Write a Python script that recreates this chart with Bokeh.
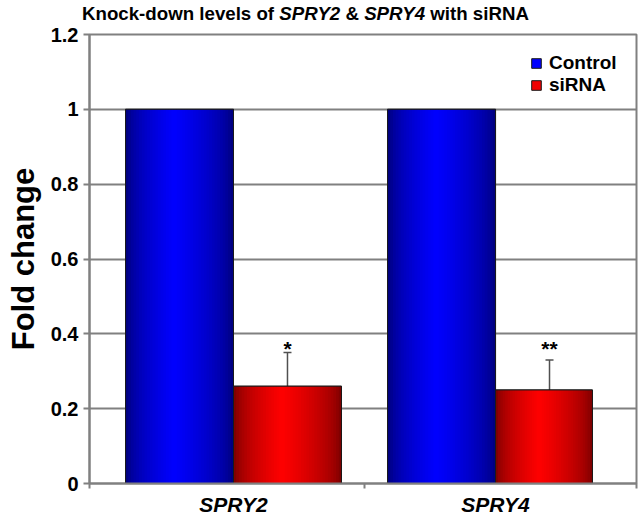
from bokeh.plotting import figure
from bokeh.layouts import column
from bokeh.models import (Range1d, FixedTicker, Legend, LegendItem, Div,
                          ColumnDataSource, Whisker, TeeHead)
from bokeh.embed import file_html
from bokeh.resources import INLINE
from bokeh.core.properties import value

# ---------------- data ----------------
genes = ["SPRY2", "SPRY4"]
control = [1.0, 1.0]
sirna = [0.26, 0.25]
sirna_err = [0.09, 0.08]
significance = ["*", "**"]
y_ticks = [0, 0.2, 0.4, 0.6, 0.8, 1.0, 1.2]
y_tick_labels = ["0", "0.2", "0.4", "0.6", "0.8", "1", "1.2"]
series_names = ["Control", "siRNA"]
title_html = f"Knock-down levels of <i>{genes[0]}</i> &amp; <i>{genes[1]}</i> with siRNA"

# ---------------- styles ----------------
FONT = "Liberation Sans"
W = 640
DIV_H = 24
H = 494
BW = 0.412
sirna_bar_widths = [0.412, 0.370]   # drawn widths as in the picture
sig_offsets = [-4, -12]             # pixel lift of the significance marks
X0, X1 = 0.4504, 2.538

pos = [i + 1 for i in range(len(genes))]

p = figure(width=W, height=H, x_range=Range1d(X0, X1), y_range=Range1d(0, 1.2),
           output_backend="svg", toolbar_location=None,
           min_border_left=89, min_border_right=W - 636, min_border_top=10,
           min_border_bottom=H - 461)
p.title.visible = False
p.xgrid.visible = False
p.background_fill_color = "white"
p.border_fill_color = "white"
p.outline_line_color = "#808080"
p.outline_line_width = 2

# x axis: category names, tick marks at category boundaries
boundaries = [X0] + [(a + b) / 2 for a, b in zip(pos[:-1], pos[1:])] + [X1]
p.xaxis.ticker = FixedTicker(ticks=pos, minor_ticks=boundaries)
p.xaxis.major_label_overrides = {x: g for x, g in zip(pos, genes)}
p.xaxis.major_label_text_font = FONT
p.xaxis.major_label_text_font_style = "bold italic"
p.xaxis.major_label_text_font_size = "21px"
p.xaxis.major_label_text_color = "black"
p.xaxis.major_label_standoff = 4
p.xaxis.major_tick_out = 0
p.xaxis.major_tick_in = 0
p.xaxis.minor_tick_out = 5
p.xaxis.minor_tick_in = 0
p.xaxis.minor_tick_line_color = "#808080"
p.xaxis.minor_tick_line_width = 2
p.xaxis.axis_line_color = "#808080"
p.xaxis.axis_line_width = 2

# y axis
p.yaxis.ticker = FixedTicker(ticks=y_ticks)
p.yaxis.major_label_overrides = {t: l for t, l in zip(y_ticks, y_tick_labels)}
p.yaxis.major_label_text_font = FONT
p.yaxis.major_label_text_font_style = "bold"
p.yaxis.major_label_text_font_size = "20px"
p.yaxis.major_label_text_color = "black"
p.yaxis.major_label_standoff = 5
p.yaxis.axis_line_color = "#808080"
p.yaxis.axis_line_width = 2
p.yaxis.major_tick_line_color = "#808080"
p.yaxis.major_tick_line_width = 2
p.yaxis.major_tick_out = 6
p.yaxis.major_tick_in = 0
p.yaxis.minor_tick_line_color = None
p.yaxis.axis_label = "Fold change"
p.yaxis.axis_label_text_font = FONT
p.yaxis.axis_label_text_font_style = "bold"
p.yaxis.axis_label_text_font_size = "31px"
p.yaxis.axis_label_text_color = "black"
p.yaxis.axis_label_standoff = 7
p.ygrid.ticker = FixedTicker(ticks=y_ticks)
p.ygrid.grid_line_color = "#808080"
p.ygrid.grid_line_width = 2


# ---------------- gradient bars ----------------
def shade(t, dark, bright):
    c = 0.45
    f = 1 - abs(t - c) / (c if t < c else 1 - c)
    f = max(0.0, f) ** 0.55
    r, g, b = (int(round(d + (bb - d) * f)) for d, bb in zip(dark, bright))
    return "#%02x%02x%02x" % (r, g, b)


N = 40
specs = [(control, [-BW] * len(pos), [BW] * len(pos), (0, 0, 110), (0, 0, 255), "#0000FF"),
         (sirna, [0.0] * len(pos), sirna_bar_widths, (110, 0, 0), (255, 0, 0), "#F00000")]
legend_renderers = []
for vals, offs, widths, dark, bright, solid in specs:
    base = dict(left=[x + o for x, o in zip(pos, offs)],
                right=[x + o + w for x, o, w in zip(pos, offs, widths)], top=vals)
    r = p.quad(left="left", right="right", top="top", bottom=0, fill_color=solid,
               line_color="#1a1a1a", line_width=1, source=ColumnDataSource(base))
    legend_renderers.append(r)
    strips = dict(left=[], right=[], top=[], color=[])
    for l0, r0, v in zip(base["left"], base["right"], vals):
        w = r0 - l0
        for k in range(N):
            strips["left"].append(l0 + w * k / N)
            strips["right"].append(min(r0, l0 + w * (k + 1.7) / N))
            strips["top"].append(v)
            strips["color"].append(shade((k + 0.5) / N, dark, bright))
    p.quad(left="left", right="right", top="top", bottom=0, fill_color="color",
           line_color=None, source=ColumnDataSource(strips))
    p.quad(left="left", right="right", top="top", bottom=0, fill_alpha=0,
           line_color="#1a1a1a", line_width=1, source=ColumnDataSource(base))

# error bars (upper only)
err_src = ColumnDataSource(dict(
    x=[x + BW / 2 for x in pos], lower=sirna,
    upper=[v + e for v, e in zip(sirna, sirna_err)], sig=significance,
    lift=sig_offsets))
p.add_layout(Whisker(source=err_src, base="x", lower="lower", upper="upper",
                     line_color="#505050", line_width=1.5,
                     upper_head=TeeHead(size=8, line_color="#505050", line_width=1.5),
                     lower_head=None))
p.text(x="x", y="upper", text="sig", source=err_src, text_align="center",
       text_baseline="alphabetic", y_offset="lift", text_font=value(FONT),
       text_font_style="bold", text_font_size="21px", text_color="black")

# legend
legend = Legend(items=[LegendItem(label=series_names[0], renderers=[legend_renderers[0]]),
                       LegendItem(label=series_names[1], renderers=[legend_renderers[1]])],
                location=(441, 387), glyph_width=12, glyph_height=12,
                label_text_font=FONT, label_text_font_style="bold",
                label_text_font_size="19px", label_text_color="black",
                label_standoff=7, label_height=21,
                padding=0, margin=0, spacing=0, background_fill_alpha=0,
                border_line_alpha=0)
p.add_layout(legend)

# title with italic gene names
title = Div(text=title_html, width=W, height=DIV_H, margin=0,
            styles={"font-family": FONT, "font-weight": "bold", "font-size": "18.7px",
                    "line-height": "28px", "white-space": "nowrap",
                    "color": "black", "padding-left": "82px", "overflow": "visible"})

layout = column(title, p, spacing=0)
open("out.html", "w").write(file_html(layout, INLINE))
